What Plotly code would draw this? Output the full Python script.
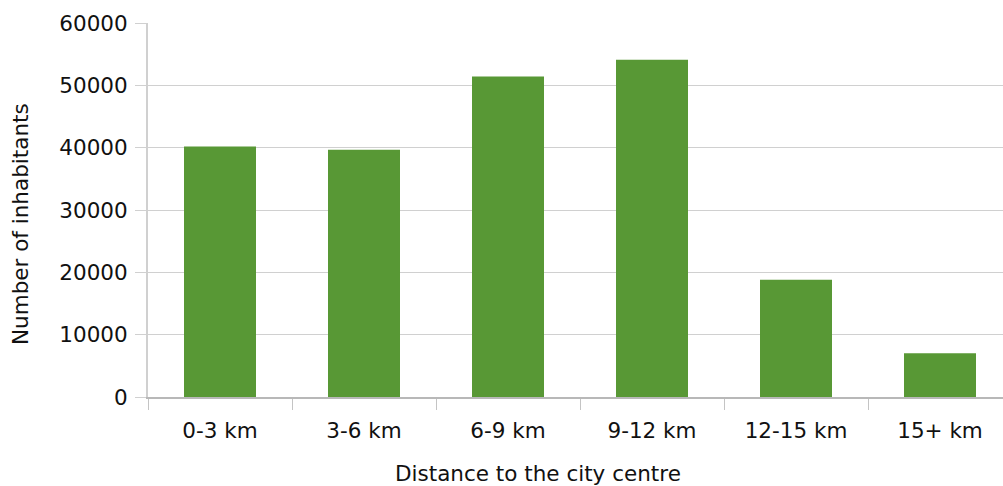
import plotly.graph_objects as go

categories = ["0-3 km", "3-6 km", "6-9 km", "9-12 km", "12-15 km", "15+ km"]
inhabitants = [40200, 39650, 51400, 54100, 18800, 7000]
y_ticks = [0, 10000, 20000, 30000, 40000, 50000, 60000]

FONT = "DejaVu Sans, Verdana, sans-serif"
FS = 21.5

L, T, B = 148, 23, 89
W, H = 1003, 486
PW, PH = W - L, H - T - B

fig = go.Figure(go.Bar(
    x=categories, y=inhabitants,
    marker=dict(color="#589835", line=dict(width=0)),
    width=0.5,
))

fig.update_layout(
    width=W, height=H,
    margin=dict(l=L, r=0, t=T, b=B),
    paper_bgcolor="white", plot_bgcolor="white",
    font=dict(family=FONT, size=FS, color="#111111"),
    showlegend=False,
    bargap=0.5,
)
fig.update_xaxes(
    type="category",
    range=[-0.5, 5.4375],
    tickson="boundaries",
    ticks="outside", ticklen=11, tickcolor="#c4c4c4", tickwidth=1,
    ticklabelstandoff=13,
    showline=True, linecolor="#b8b8b8", linewidth=2,
    showgrid=False,
    tickfont=dict(size=FS),
)
fig.update_yaxes(
    range=[0, 60000],
    tickvals=y_ticks, ticktext=[str(v) for v in y_ticks],
    ticks="outside", ticklen=11, tickcolor="#d0d0d0", tickwidth=1,
    ticklabelstandoff=3,
    showline=True, linecolor="#d0d0d0", linewidth=2,
    showgrid=True, gridcolor="#d0d0d0", gridwidth=1,
    zeroline=False,
    tickfont=dict(size=FS),
)

fig.add_annotation(
    text="Distance to the city centre", showarrow=False,
    xref="paper", yref="paper",
    x=(538 - L) / PW, y=(397 - 473) / PH,
    xanchor="center", yanchor="middle",
    font=dict(size=FS),
)
fig.add_annotation(
    text="Number of inhabitants", showarrow=False, textangle=-90,
    xref="paper", yref="paper",
    x=(21 - L) / PW, y=(397 - 224) / PH,
    xanchor="center", yanchor="middle",
    font=dict(size=FS),
)

fig.write_html("out.html")
